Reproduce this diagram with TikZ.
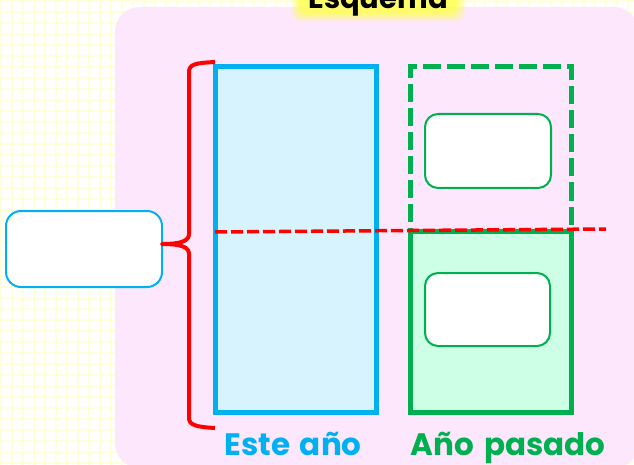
\documentclass[tikz,border=0pt]{standalone}
\usepackage{fontspec}
\setmainfont{Poppins}[WordSpace=1.5]
\definecolor{cyanc}{RGB}{0,176,240}
\definecolor{greenc}{RGB}{0,176,80}
\definecolor{redc}{RGB}{255,0,0}
\definecolor{pinkc}{RGB}{252,231,252}
\definecolor{bluef}{RGB}{214,243,254}
\definecolor{greenf}{RGB}{204,255,229}
\definecolor{gridc}{RGB}{255,255,218}
\definecolor{glowc}{RGB}{255,255,90}
\tikzset{
  bigrect/.style={minimum width=161.5pt, inner sep=0pt, line width=5pt},
  smallbox/.style={draw=greenc, fill=white, line width=2pt, rounded corners=13pt, inner sep=0pt},
  lab/.style={font=\bfseries\fontsize{31}{31}\selectfont, anchor=base, inner sep=0pt},
}
\begin{document}
\begin{tikzpicture}[x=1pt,y=-1pt]
\useasboundingbox (0,0) rectangle (634,465);
\fill[white] (0,0) rectangle (634,465);
\foreach \i in {0,...,58} {
  \draw[gridc, line width=2.5pt] (\i*11+1,0) -- (\i*11+1,465);
}
\foreach \j in {0,...,43} {
  \draw[gridc, line width=2.5pt] (0,\j*11+1) -- (634,\j*11+1);
}
% pink panel
\fill[pinkc, rounded corners=25pt] (115,7) rectangle (639,468);
% title glow
\foreach \k/\o in {9/0.18,7/0.22,5/0.3,3/0.4,1/0.6} {
  \fill[glowc, opacity=\o, rounded corners=10pt] (300-\k,-12-\k) rectangle (456+\k,13+\k);
}
\node[lab, font=\bfseries\fontsize{29}{29}\selectfont] (title) at (378,9) {Esquema};
% rectangles
\node[bigrect, draw=cyanc, fill=bluef, minimum height=345pt] (thisyear) at (295.75,239.5) {};
\node[bigrect, draw=greenc, dash pattern=on 18pt off 6pt, minimum height=164pt] (lastup) at (490.75,149) {};
\node[bigrect, draw=greenc, fill=greenf, minimum height=181pt] (lastlow) at (490.75,321.5) {};
\node[smallbox, minimum width=126pt, minimum height=74pt] (boxa) at (488,151) {};
\node[smallbox, minimum width=125pt, minimum height=73pt] (boxb) at (487.5,309.5) {};
\node[draw=cyanc, fill=white, line width=2pt, rounded corners=15pt, minimum width=156pt, minimum height=76pt, inner sep=0pt] (total) at (84,249) {};
% red dashed line
\coordinate (dl) at (215,232);
\coordinate (dr) at (606,229);
\draw[redc, line width=3.5pt, dash pattern=on 12pt off 4pt] (dl) -- (dr);
% brace
\coordinate (bt) at (215,62);
\coordinate (bb) at (215,428);
\coordinate (tip) at (162,244);
\draw[redc, line width=4pt, line join=round] (bt) .. controls (196,63) and (189,64) .. (189,72) -- (189,234) .. controls (189,241) and (181,244) .. (tip) .. controls (181,244) and (189,247) .. (189,254) -- (189,418) .. controls (189,425) and (196,427) .. (bb);
% labels
\node[lab, text=cyanc] (lthis) at (293,455) {Este año};
\node[lab, text=greenc] (llast) at (508,455) {Año pasado};
\end{tikzpicture}
\end{document}
